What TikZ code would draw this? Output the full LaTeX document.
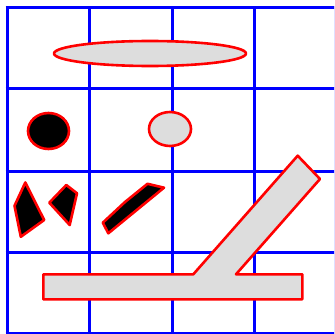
\documentclass[tikz,border=0pt]{standalone}
\usepackage{tikz}

\definecolor{shapegray}{HTML}{DDDDDD}

\begin{document}
\begin{tikzpicture}[
    x=1pt, y=-1pt,
    gridline/.style={draw=blue, line width=3pt},
    outline/.style={draw=red, line width=2.6pt, line join=round},
    lightshape/.style={outline, fill=shapegray},
    darkshape/.style={outline, fill=black}
]
\useasboundingbox (0,0) rectangle (334,334);
\clip (0,0) rectangle (334,334);
\fill[white] (0,0) rectangle (334,334);
% grid
\foreach \gx in {7,89,172,254,335.5}
    \draw[gridline] (\gx,6.5) -- (\gx,334.5);
\foreach \gy in {8,89,171,252,333}
    \draw[gridline] (5.5,\gy) -- (337,\gy);
% ellipses
\draw[lightshape] (150,53.5) ellipse [x radius=96, y radius=12.5];
\draw[darkshape] (48.5,131) ellipse [x radius=20.5, y radius=18];
\draw[lightshape] (170,129) ellipse [x radius=21, y radius=17];
% black polygons
\draw[darkshape] (25.3,182.5) -- (44.2,220) -- (20.8,236.8) -- (14.5,205.8) -- cycle;
\draw[darkshape] (66.3,185) -- (77,193.3) -- (69.7,225) -- (49.3,202.7) -- cycle;
\draw[darkshape] (147.5,183.8) -- (164,187.7) -- (108.3,233.3) -- (102.8,222.7) -- (125,202) -- cycle;
% bar with diagonal arm
\draw[lightshape] (43.3,274.3) -- (193.3,274.3) -- (297.7,155.7) -- (320,179)
    -- (236,274.3) -- (302.3,274.3) -- (302.3,299.3) -- (43.3,299.3) -- cycle;
\end{tikzpicture}
\end{document}
